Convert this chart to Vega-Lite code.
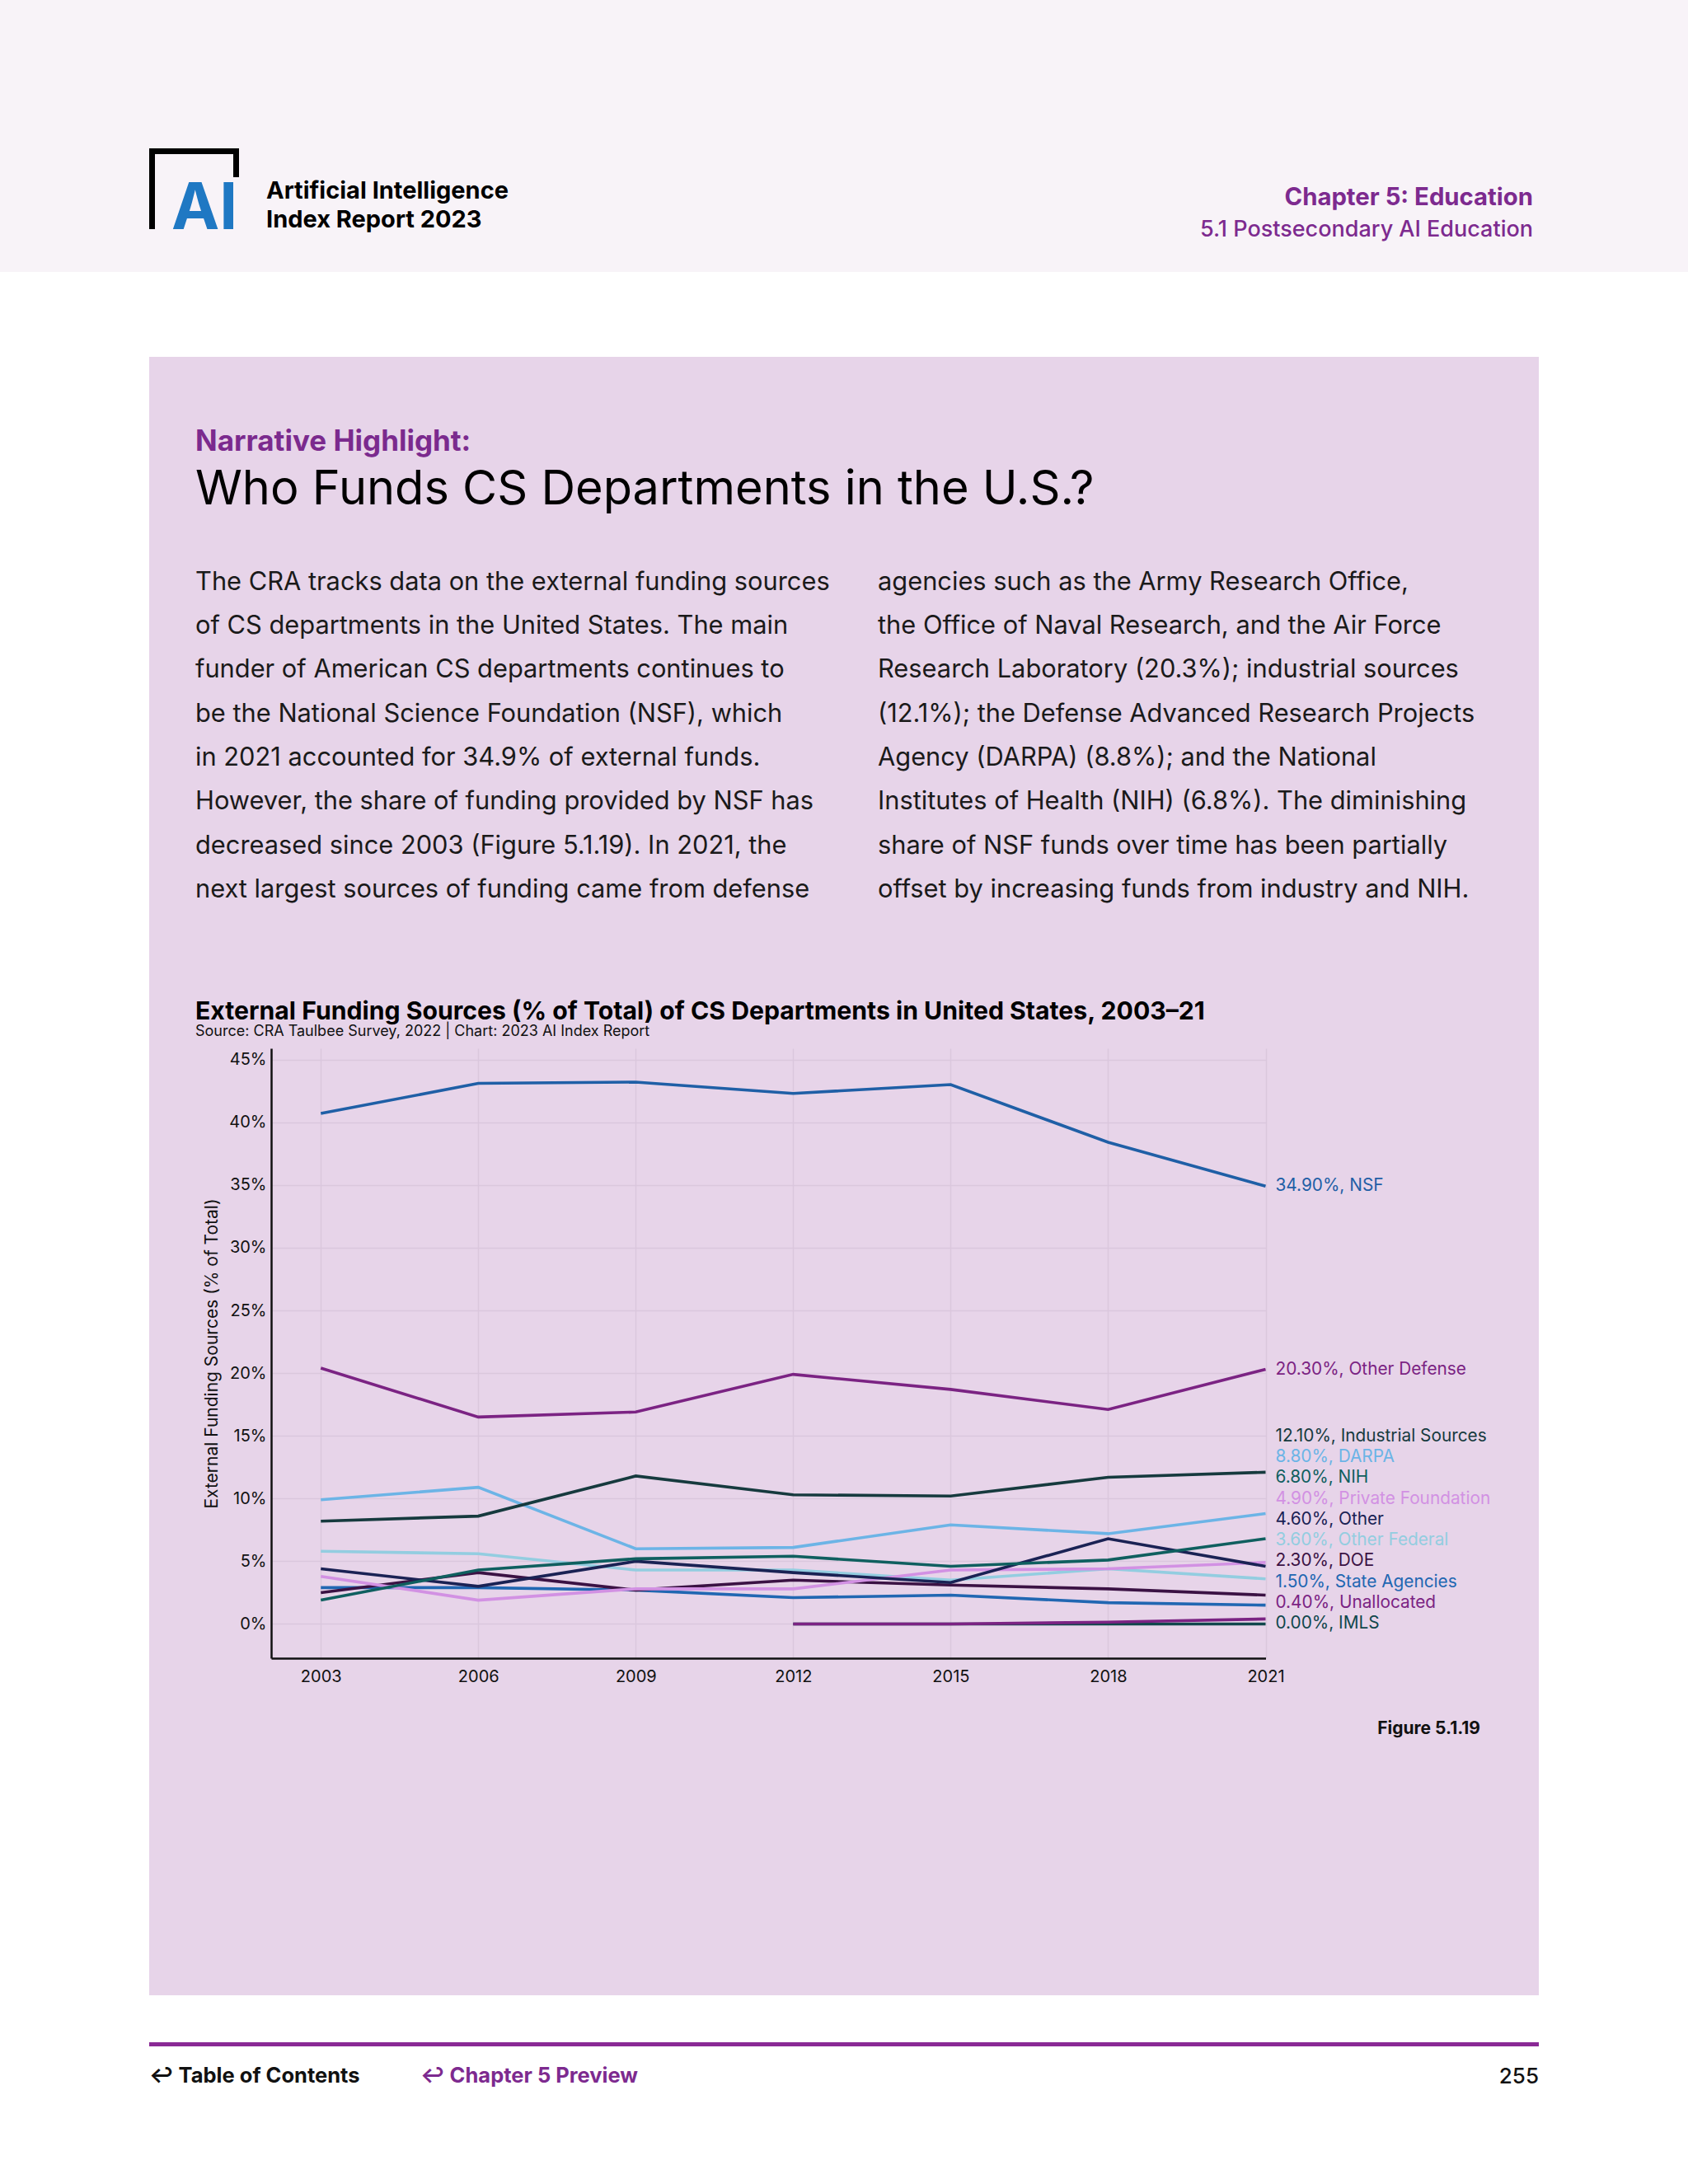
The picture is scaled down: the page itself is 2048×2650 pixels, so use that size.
{
  "$schema": "https://vega.github.io/schema/vega-lite/v6.json",
  "padding": 0,
  "background": "#e7d4e9",
  "spacing": 0,
  "config": {
    "font": "Inter",
    "view": {"stroke": null},
    "concat": {"spacing": 0},
    "title": {"font": "Inter", "subtitleFont": "Inter", "frame": "group", "orient": "top"},
    "axis": {"labelFont": "Inter", "titleFont": "Inter"},
    "text": {"font": "Inter"}
  },
  "datasets": {
    "empty": [],
    "funding": [
      {"series": "IMLS", "year": 2012, "value": 0.0},
      {"series": "IMLS", "year": 2015, "value": 0.0},
      {"series": "IMLS", "year": 2018, "value": 0.0},
      {"series": "IMLS", "year": 2021, "value": 0.0},
      {"series": "Unallocated", "year": 2012, "value": 0.0},
      {"series": "Unallocated", "year": 2015, "value": 0.0},
      {"series": "Unallocated", "year": 2018, "value": 0.15},
      {"series": "Unallocated", "year": 2021, "value": 0.4},
      {"series": "State Agencies", "year": 2003, "value": 2.9},
      {"series": "State Agencies", "year": 2006, "value": 2.9},
      {"series": "State Agencies", "year": 2009, "value": 2.7},
      {"series": "State Agencies", "year": 2012, "value": 2.1},
      {"series": "State Agencies", "year": 2015, "value": 2.3},
      {"series": "State Agencies", "year": 2018, "value": 1.7},
      {"series": "State Agencies", "year": 2021, "value": 1.5},
      {"series": "DOE", "year": 2003, "value": 2.5},
      {"series": "DOE", "year": 2006, "value": 4.1},
      {"series": "DOE", "year": 2009, "value": 2.7},
      {"series": "DOE", "year": 2012, "value": 3.5},
      {"series": "DOE", "year": 2015, "value": 3.1},
      {"series": "DOE", "year": 2018, "value": 2.8},
      {"series": "DOE", "year": 2021, "value": 2.3},
      {"series": "Other Federal", "year": 2003, "value": 5.8},
      {"series": "Other Federal", "year": 2006, "value": 5.6},
      {"series": "Other Federal", "year": 2009, "value": 4.3},
      {"series": "Other Federal", "year": 2012, "value": 4.3},
      {"series": "Other Federal", "year": 2015, "value": 3.5},
      {"series": "Other Federal", "year": 2018, "value": 4.4},
      {"series": "Other Federal", "year": 2021, "value": 3.6},
      {"series": "Private Foundation", "year": 2003, "value": 3.8},
      {"series": "Private Foundation", "year": 2006, "value": 1.9},
      {"series": "Private Foundation", "year": 2009, "value": 2.8},
      {"series": "Private Foundation", "year": 2012, "value": 2.8},
      {"series": "Private Foundation", "year": 2015, "value": 4.3},
      {"series": "Private Foundation", "year": 2018, "value": 4.4},
      {"series": "Private Foundation", "year": 2021, "value": 4.9},
      {"series": "Other", "year": 2003, "value": 4.4},
      {"series": "Other", "year": 2006, "value": 3.0},
      {"series": "Other", "year": 2009, "value": 5.0},
      {"series": "Other", "year": 2012, "value": 4.1},
      {"series": "Other", "year": 2015, "value": 3.3},
      {"series": "Other", "year": 2018, "value": 6.8},
      {"series": "Other", "year": 2021, "value": 4.6},
      {"series": "NIH", "year": 2003, "value": 1.9},
      {"series": "NIH", "year": 2006, "value": 4.3},
      {"series": "NIH", "year": 2009, "value": 5.2},
      {"series": "NIH", "year": 2012, "value": 5.4},
      {"series": "NIH", "year": 2015, "value": 4.6},
      {"series": "NIH", "year": 2018, "value": 5.1},
      {"series": "NIH", "year": 2021, "value": 6.8},
      {"series": "DARPA", "year": 2003, "value": 9.9},
      {"series": "DARPA", "year": 2006, "value": 10.9},
      {"series": "DARPA", "year": 2009, "value": 6.0},
      {"series": "DARPA", "year": 2012, "value": 6.1},
      {"series": "DARPA", "year": 2015, "value": 7.9},
      {"series": "DARPA", "year": 2018, "value": 7.2},
      {"series": "DARPA", "year": 2021, "value": 8.8},
      {"series": "Industrial Sources", "year": 2003, "value": 8.2},
      {"series": "Industrial Sources", "year": 2006, "value": 8.6},
      {"series": "Industrial Sources", "year": 2009, "value": 11.8},
      {"series": "Industrial Sources", "year": 2012, "value": 10.3},
      {"series": "Industrial Sources", "year": 2015, "value": 10.2},
      {"series": "Industrial Sources", "year": 2018, "value": 11.7},
      {"series": "Industrial Sources", "year": 2021, "value": 12.1},
      {"series": "Other Defense", "year": 2003, "value": 20.4},
      {"series": "Other Defense", "year": 2006, "value": 16.5},
      {"series": "Other Defense", "year": 2009, "value": 16.9},
      {"series": "Other Defense", "year": 2012, "value": 19.9},
      {"series": "Other Defense", "year": 2015, "value": 18.7},
      {"series": "Other Defense", "year": 2018, "value": 17.1},
      {"series": "Other Defense", "year": 2021, "value": 20.3},
      {"series": "NSF", "year": 2003, "value": 40.7},
      {"series": "NSF", "year": 2006, "value": 43.1},
      {"series": "NSF", "year": 2009, "value": 43.2},
      {"series": "NSF", "year": 2012, "value": 42.3},
      {"series": "NSF", "year": 2015, "value": 43.0},
      {"series": "NSF", "year": 2018, "value": 38.4},
      {"series": "NSF", "year": 2021, "value": 34.9}
    ]
  },
  "vconcat": [
    {
      "spacing": 0,
      "hconcat": [
        {"data": {"name": "empty"}, "mark": "point", "width": 181, "height": 330, "view": {"fill": "#f8f3f8", "stroke": null}},
        {
          "spacing": 0,
          "vconcat": [
            {"data": {"name": "empty"}, "mark": "point", "width": 109, "height": 180, "view": {"fill": "#f8f3f8", "stroke": null}},
            {"data": {"name": "empty"}, "mark": "point", "width": 109, "height": 7, "view": {"fill": "#000000", "stroke": null}},
            {
              "spacing": 0,
              "hconcat": [
                {"data": {"name": "empty"}, "mark": "point", "width": 7, "height": 28, "view": {"fill": "#000000", "stroke": null}},
                {"data": {"name": "empty"}, "mark": "point", "width": 95, "height": 28, "view": {"fill": "#f8f3f8", "stroke": null}},
                {"data": {"name": "empty"}, "mark": "point", "width": 7, "height": 28, "view": {"fill": "#000000", "stroke": null}}
              ]
            },
            {
              "spacing": 0,
              "hconcat": [
                {
                  "spacing": 0,
                  "vconcat": [
                    {"data": {"name": "empty"}, "mark": "point", "width": 7, "height": 63, "view": {"fill": "#000000", "stroke": null}},
                    {"data": {"name": "empty"}, "mark": "point", "width": 7, "height": 19, "view": {"fill": "#f8f3f8", "stroke": null}}
                  ]
                },
                {
                  "data": {"name": "empty"}, "mark": "point", "width": 102, "height": 82, "view": {"fill": "#f8f3f8", "stroke": null},
                  "title": {"text": "AI", "anchor": "start", "dx": 20, "offset": -79, "fontSize": 78, "fontWeight": "bold", "color": "#1f78c3"}
                }
              ]
            },
            {"data": {"name": "empty"}, "mark": "point", "width": 109, "height": 33, "view": {"fill": "#f8f3f8", "stroke": null}}
          ]
        },
        {
          "data": {"name": "empty"}, "mark": "point", "width": 734, "height": 330,
          "view": {"fill": "#f8f3f8", "stroke": null},
          "title": {"text": ["Artificial Intelligence", "Index Report 2023"], "anchor": "start", "dx": 33, "offset": -281.5, "fontSize": 29, "fontWeight": "bold", "lineHeight": 35, "color": "#000000"}
        },
        {
          "data": {"name": "empty"}, "mark": "point", "width": 1024, "height": 330,
          "view": {"fill": "#f8f3f8", "stroke": null},
          "title": {"text": "Chapter 5: Education", "subtitle": "5.1 Postsecondary AI Education", "anchor": "end", "dx": -188, "offset": -292.4, "fontSize": 29.3, "fontWeight": "bold", "color": "#7d2a8f", "subtitleFontSize": 27, "subtitleFontWeight": 500, "subtitleColor": "#7d2a8f", "subtitlePadding": 10.9}
        }
      ]
    },
    {
      "data": {"name": "empty"}, "mark": "point", "width": 2048, "height": 103,
      "view": {"fill": "#ffffff", "stroke": null}
    },
    {
      "spacing": 0,
      "hconcat": [
        {"data": {"name": "empty"}, "mark": "point", "width": 181, "height": 1988, "view": {"fill": "#ffffff", "stroke": null}},
        {
          "spacing": 0,
          "vconcat": [
            {
              "data": {"name": "empty"}, "mark": "point", "width": 1686, "height": 230,
              "title": {"text": "Narrative Highlight:", "subtitle": "Who Funds CS Departments in the U.S.?", "anchor": "start", "dx": 56, "offset": -190.8, "fontSize": 35, "fontWeight": "bold", "color": "#7b2a8e", "subtitleFontSize": 57.7, "subtitleFontWeight": 400, "subtitleColor": "#000000", "subtitlePadding": 12.2}
            },
            {
              "spacing": 0,
              "hconcat": [
                {
                  "data": {"name": "empty"}, "mark": "point", "width": 884, "height": 470,
                  "title": {"text": ["The CRA tracks data on the external funding sources", "of CS departments in the United States. The main", "funder of American CS departments continues to", "be the National Science Foundation (NSF), which", "in 2021 accounted for 34.9% of external funds.", "However, the share of funding provided by NSF has", "decreased since 2003 (Figure 5.1.19). In 2021, the", "next largest sources of funding came from defense"], "anchor": "start", "dx": 56, "offset": -432.7, "fontSize": 30.8, "fontWeight": 400, "lineHeight": 53.3, "color": "#1a1a1a"}
                },
                {
                  "data": {"name": "empty"}, "mark": "point", "width": 802, "height": 470,
                  "title": {"text": ["agencies such as the Army Research Office,", "the Office of Naval Research, and the Air Force", "Research Laboratory (20.3%); industrial sources", "(12.1%); the Defense Advanced Research Projects", "Agency (DARPA) (8.8%); and the National", "Institutes of Health (NIH) (6.8%). The diminishing", "share of NSF funds over time has been partially", "offset by increasing funds from industry and NIH."], "anchor": "start", "dx": 0, "offset": -432.7, "fontSize": 30.8, "fontWeight": 400, "lineHeight": 53.3, "color": "#1a1a1a"}
                }
              ]
            },
            {
              "data": {"name": "empty"}, "mark": "point", "width": 1686, "height": 139,
              "title": {"text": "External Funding Sources (% of Total) of CS Departments in United States, 2003–21", "subtitle": "Source: CRA Taulbee Survey, 2022 | Chart: 2023 AI Index Report", "anchor": "start", "dx": 56, "offset": -128.4, "fontSize": 30.2, "fontWeight": "bold", "color": "#000000", "subtitleFontSize": 18, "subtitleColor": "#111111", "subtitlePadding": 0.2}
            },
            {
              "spacing": 0,
              "hconcat": [
                {"data": {"name": "empty"}, "mark": "point", "width": 64.5, "height": 10},
                {
                  "width": 1206.5,
                  "height": 740,
                  "data": {"name": "funding"},
                  "layer": [
                    {
                      "mark": {"type": "line", "strokeWidth": 3.6, "clip": false},
                      "encoding": {
                        "x": {
                          "field": "year", "type": "quantitative",
                          "scale": {"domain": [2002.054, 2021], "nice": false, "zero": false},
                          "axis": {"values": [2003, 2006, 2009, 2012, 2015, 2018, 2021], "format": "d", "title": null, "grid": true, "gridColor": "#dac7dd", "gridWidth": 1.5, "ticks": false, "domainColor": "#111111", "domainWidth": 2.5, "labelFontSize": 20, "labelPadding": 12, "labelColor": "#111111", "labelFlush": false}
                        },
                        "y": {
                          "field": "value", "type": "quantitative",
                          "scale": {"domain": [-2.727, 45.894], "nice": false, "zero": false},
                          "axis": {"values": [0, 5, 10, 15, 20, 25, 30, 35, 40, 45], "labelExpr": "datum.value + '%'", "title": "External Funding Sources (% of Total)", "grid": true, "gridColor": "#dac7dd", "gridWidth": 1.5, "ticks": false, "domainColor": "#111111", "domainWidth": 2.5, "labelFontSize": 20, "labelPadding": 6, "labelColor": "#111111", "labelFlush": false, "titleFontSize": 21, "titleFontWeight": "normal", "titlePadding": 10, "titleColor": "#111111"}
                        },
                        "color": {
                          "field": "series", "type": "nominal", "legend": null,
                          "scale": {
                            "domain": ["NSF", "Other Defense", "Industrial Sources", "DARPA", "NIH", "Private Foundation", "Other", "Other Federal", "DOE", "State Agencies", "Unallocated", "IMLS"],
                            "range": ["#1f5fa6", "#7b2383", "#163a3e", "#6cb4e6", "#0f5f5f", "#d291e3", "#1a2254", "#93cde0", "#3b1244", "#2167b2", "#7b2383", "#10474c"]
                          }
                        }
                      }
                    },
                    {
                      "transform": [
                        {"filter": "datum.year == 2021 && (datum.series == 'NSF' || datum.series == 'Other Defense')"},
                        {"calculate": "format(datum.value, '.2f') + '%, ' + datum.series", "as": "label"}
                      ],
                      "mark": {"type": "text", "align": "left", "baseline": "middle", "dx": 12, "fontSize": 20.8},
                      "encoding": {
                        "x": {"field": "year", "type": "quantitative"},
                        "y": {"field": "value", "type": "quantitative", "scale": {"domain": [-2.727, 45.894], "nice": false, "zero": false}, "axis": null},
                        "text": {"field": "label"},
                        "color": {"field": "series", "type": "nominal", "legend": null}
                      }
                    },
                    {
                      "transform": [
                        {"filter": "datum.year == 2021 && datum.series != 'NSF' && datum.series != 'Other Defense'"},
                        {"window": [{"op": "row_number", "as": "rank"}], "sort": [{"field": "value", "order": "descending"}]},
                        {"calculate": "format(datum.value, '.2f') + '%, ' + datum.series", "as": "label"}
                      ],
                      "mark": {"type": "text", "align": "left", "baseline": "middle", "dx": 12, "fontSize": 20.8},
                      "encoding": {
                        "x": {"field": "year", "type": "quantitative"},
                        "y": {"field": "rank", "type": "quantitative", "scale": {"domain": [-17.605, 11.645], "reverse": true, "nice": false, "zero": false}, "axis": null},
                        "text": {"field": "label"},
                        "color": {"field": "series", "type": "nominal", "legend": null}
                      }
                    }
                  ],
                  "resolve": {"scale": {"y": "independent"}}
                }
              ]
            },
            {
              "data": {"name": "empty"}, "mark": "point", "width": 1686, "height": 80,
              "title": {"text": "Figure 5.1.19", "anchor": "end", "dx": -71, "offset": -64, "fontSize": 21, "fontWeight": "bold", "color": "#111111"}
            }
          ]
        },
        {"data": {"name": "empty"}, "mark": "point", "width": 181, "height": 1988, "view": {"fill": "#ffffff", "stroke": null}}
      ]
    },
    {
      "data": {"name": "empty"}, "mark": "point", "width": 2048, "height": 57,
      "view": {"fill": "#ffffff", "stroke": null}
    },
    {
      "spacing": 0,
      "hconcat": [
        {"data": {"name": "empty"}, "mark": "point", "width": 181, "height": 5, "view": {"fill": "#ffffff", "stroke": null}},
        {"data": {"name": "empty"}, "mark": "point", "width": 1686, "height": 5, "view": {"fill": "#8a2a95", "stroke": null}},
        {"data": {"name": "empty"}, "mark": "point", "width": 181, "height": 5, "view": {"fill": "#ffffff", "stroke": null}}
      ]
    },
    {
      "spacing": 0,
      "hconcat": [
        {"data": {"name": "empty"}, "mark": "point", "width": 181, "height": 167, "view": {"fill": "#ffffff", "stroke": null}},
        {
          "data": {"name": "empty"}, "mark": "point", "width": 329, "height": 167, "view": {"fill": "#ffffff", "stroke": null},
          "title": {"text": "↩ Table of Contents", "anchor": "start", "dx": 0, "offset": -49.5, "fontSize": 25.5, "fontWeight": "bold", "color": "#111111"}
        },
        {
          "data": {"name": "empty"}, "mark": "point", "width": 1000, "height": 167, "view": {"fill": "#ffffff", "stroke": null},
          "title": {"text": "↩ Chapter 5 Preview", "anchor": "start", "dx": 0, "offset": -49.5, "fontSize": 25.5, "fontWeight": "bold", "color": "#7d2a8f"}
        },
        {
          "data": {"name": "empty"}, "mark": "point", "width": 357, "height": 167, "view": {"fill": "#ffffff", "stroke": null},
          "title": {"text": "255", "anchor": "end", "dx": 0, "offset": -49.8, "fontSize": 26, "fontWeight": 500, "color": "#111111"}
        },
        {"data": {"name": "empty"}, "mark": "point", "width": 181, "height": 167, "view": {"fill": "#ffffff", "stroke": null}}
      ]
    }
  ]
}
